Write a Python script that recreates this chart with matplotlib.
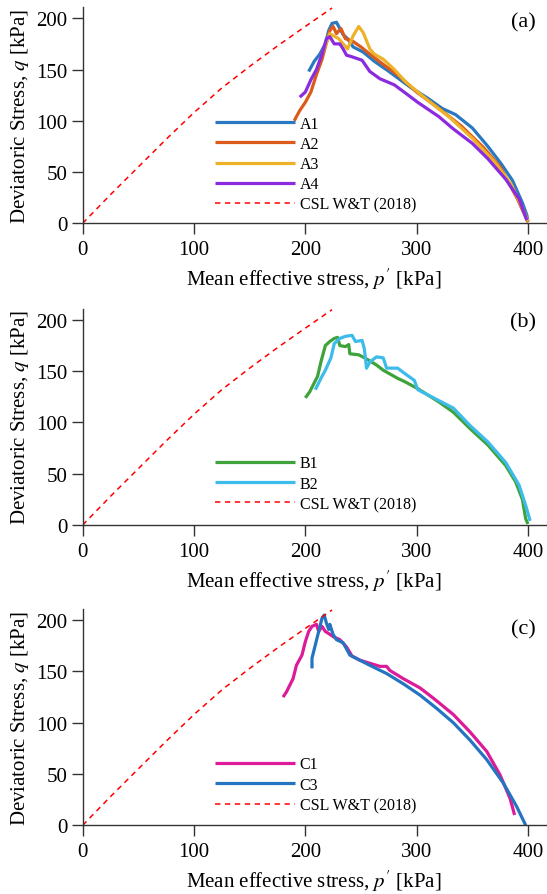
import matplotlib
matplotlib.use("Agg")
import matplotlib.pyplot as plt

# CSL W&T (2018)
csl_p = [0, 25, 50, 75, 100, 125, 150, 175, 200, 224]
csl_q = [0, 28, 55, 82, 108, 132, 153, 173, 192, 210]

# panel (a)
a1_p = [203, 208, 213, 218, 221, 224, 228, 231, 234, 238, 243, 252, 262, 274, 294, 310, 323, 335, 350, 364, 376, 386, 395, 399, 400]
a1_q = [148, 158, 165, 175, 188, 195, 196, 190, 184, 180, 172, 167, 158, 149, 133, 122, 112, 106, 93, 75, 58, 42, 20, 8, 2]
a2_p = [190, 195, 200, 205, 210, 215, 219, 222, 225, 228, 232, 236, 242, 250, 258, 270, 285, 300, 320, 340, 360, 375, 390, 398, 400]
a2_q = [100, 110, 118, 128, 145, 160, 176, 188, 192, 185, 190, 180, 178, 172, 165, 155, 143, 128, 112, 95, 74, 55, 25, 6, 1]
a3_p = [215, 222, 230, 238, 243, 248, 252, 255, 258, 262, 270, 280, 290, 310, 330, 350, 370, 385, 395, 400]
a3_q = [165, 185, 180, 170, 183, 192, 186, 178, 170, 165, 160, 150, 138, 120, 103, 83, 60, 38, 15, 2]
a4_p = [195, 200, 205, 210, 215, 219, 222, 226, 231, 234, 237, 243, 251, 258, 267, 280, 290, 301, 320, 333, 350, 364, 380, 392, 399]
a4_q = [123, 128, 140, 150, 165, 180, 182, 175, 175, 170, 164, 162, 159, 148, 141, 135, 127, 118, 104, 92, 78, 63, 43, 24, 3]

# panel (b)
b1_p = [200, 204, 211, 214, 218, 222, 226, 229, 231, 236, 239, 240, 248, 255, 264, 270, 283, 289, 301, 320, 333, 348, 364, 380, 389, 395, 398, 400]
b1_q = [124, 130, 145, 159, 175, 179, 182, 183, 175, 174, 176, 167, 166, 162, 156, 151, 143, 140, 133, 120, 110, 94, 78, 58, 42, 25, 6, 1]
b2_p = [209, 214, 218, 223, 226, 231, 236, 242, 245, 251, 253, 255, 258, 264, 270, 273, 283, 289, 298, 301, 317, 333, 348, 364, 380, 392, 398, 402]
b2_q = [132, 143, 151, 163, 177, 182, 184, 185, 179, 180, 172, 153, 159, 164, 163, 153, 153, 148, 141, 132, 123, 114, 97, 81, 61, 39, 19, 4]

# panel (c)
c1_p = [180, 183, 189, 192, 197, 200, 203, 206, 210, 212, 215, 218, 221, 225, 231, 237, 242, 249, 258, 267, 273, 276, 288, 303, 315, 333, 348, 363, 375, 384, 388]
c1_q = [125, 130, 143, 156, 166, 179, 189, 194, 196, 189, 194, 189, 187, 184, 181, 174, 165, 161, 158, 155, 155, 151, 143, 134, 124, 108, 91, 72, 49, 26, 10]
c3_p = [206, 206, 209, 212, 215, 217, 219, 221, 222, 225, 228, 234, 240, 249, 258, 273, 288, 303, 318, 333, 348, 363, 378, 390, 398]
c3_q = [153, 163, 176, 189, 202, 205, 197, 191, 196, 186, 181, 178, 166, 161, 156, 148, 138, 127, 114, 100, 83, 64, 41, 18, 0]

panels = [
    ("(a)", [("A1", a1_p, a1_q, "#2a79c0"), ("A2", a2_p, a2_q, "#dc5a1b"),
             ("A3", a3_p, a3_q, "#edb228"), ("A4", a4_p, a4_q, "#8a2be0")]),
    ("(b)", [("B1", b1_p, b1_q, "#3ea33a"), ("B2", b2_p, b2_q, "#3dbcec")]),
    ("(c)", [("C1", c1_p, c1_q, "#dd1a98"), ("C3", c3_p, c3_q, "#2474c2")]),
]

plt.rcParams["font.family"] = ["Liberation Serif", "DejaVu Serif"]
plt.rcParams["mathtext.fontset"] = "stix"

fig = plt.figure(figsize=(5.47, 8.95), dpi=100)
bottoms = [0.7494, 0.4123, 0.0768]
leg_tops = [0.498, 0.322, 0.318]
lab_y = [0.93, 0.94, 0.907]

for (tag, series), b, lt, ly in zip(panels, bottoms, leg_tops, lab_y):
    ax = fig.add_axes([0.1512, b, 0.8465, 0.2417])
    for name, p, q, col in series:
        ax.plot(p, q, color=col, lw=2.3, label=name, solid_capstyle="butt")
    ax.plot(csl_p, csl_q, "r--", lw=1.1, dashes=(3.5, 3), label="CSL W&T (2018)")

    ax.set_xlim(0, 416)
    ax.set_ylim(0, 211)
    ax.set_xticks([0, 100, 200, 300, 400])
    ax.set_yticks([0, 50, 100, 150, 200])
    for s in ["top", "right"]:
        ax.spines[s].set_visible(False)
    for s in ["left", "bottom"]:
        ax.spines[s].set_linewidth(1.0)
        ax.spines[s].set_color("#333333")
    ax.tick_params(direction="out", length=8, width=1.0, color="#333333", labelsize=15)
    ax.tick_params(axis="x", pad=4)
    ax.tick_params(axis="y", pad=3)

    ax.set_xlabel(r"Mean effective stress, $p^{\prime}$ [kPa]", fontsize=15)
    ax.set_ylabel(r"Deviatoric Stress, $q$ [kPa]", fontsize=15)
    ax.yaxis.set_label_coords(-0.112, 0.5)
    ax.xaxis.set_label_coords(0.5, -0.195)

    ax.legend(loc="upper left", bbox_to_anchor=(0.2857, lt), frameon=False,
              borderpad=0, borderaxespad=0, handlelength=5.0, handletextpad=0.3,
              labelspacing=0.27, fontsize=11.5)
    ax.text(0.951, ly, tag, transform=ax.transAxes, ha="center", va="center", fontsize=16)

fig.savefig("out.png", dpi=100)
